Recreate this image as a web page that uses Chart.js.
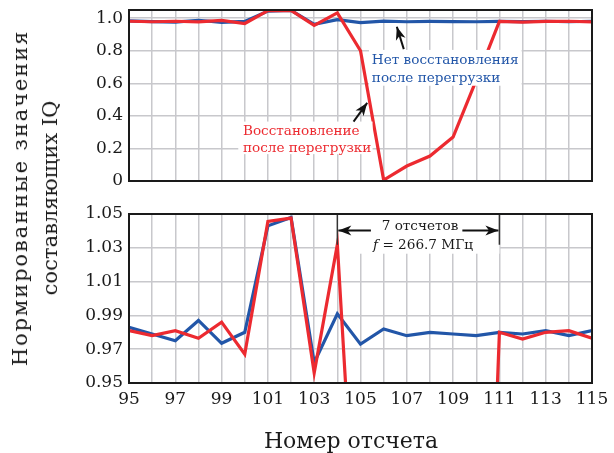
<!DOCTYPE html>
<html><head><meta charset="utf-8">
<script src="https://cdn.jsdelivr.net/npm/chart.js@4/dist/chart.umd.min.js"></script>
<style>
html,body{margin:0;padding:0;background:#fff;}
#wrap{position:relative;width:614px;height:453px;overflow:hidden;background:#fff;}
#c1{position:absolute;left:0;top:0;}
#c2{position:absolute;left:0;top:195px;}
#ytitle{position:absolute;left:35px;top:198px;transform:translate(-50%,-50%) rotate(-90deg);
  font-family:'DejaVu Serif',serif;font-size:21px;line-height:30px;text-align:center;white-space:nowrap;color:#1a1a1a;}
#ytitle .l1{letter-spacing:1.9px;}
#xtitle{position:absolute;left:351px;top:440px;transform:translate(-50%,-50%);
  font-family:'DejaVu Serif',serif;font-size:22px;white-space:nowrap;color:#1a1a1a;}
</style></head>
<body>
<div id="wrap">
<canvas id="c1" width="614" height="195"></canvas>
<canvas id="c2" width="614" height="258"></canvas>
<div id="ytitle"><span class="l1">Нормированные значения</span><br>составляющих IQ</div>
<div id="xtitle">Номер отсчета</div>
</div>
<script>
// ---- data ----
const sampleNumbers = [95,96,97,98,99,100,101,102,103,104,105,106,107,108,109,110,111,112,113,114,115];
const noRecovery   = [0.983,0.979,0.975,0.987,0.9735,0.980,1.043,1.048,0.962,0.991,0.973,0.982,0.978,0.980,0.979,0.978,0.980,0.979,0.981,0.978,0.981];
const withRecovery = [0.981,0.978,0.981,0.9765,0.986,0.967,1.0456,1.0476,0.956,1.032,0.80,0.006,0.092,0.153,0.27,0.62,0.980,0.976,0.980,0.981,0.9765];
const xTickLabels      = ['95','97','99','101','103','105','107','109','111','113','115'];
const topYTickLabels   = ['0','0.2','0.4','0.6','0.8','1.0'];
const bottomYTickLabels= ['0.95','0.97','0.99','1.01','1.03','1.05'];
const noRecoveryLabel = ['Нет восстановления','после перегрузки'];
const recoveryLabel   = ['Восстановление','после перегрузки'];
const periodLabel = ['7 отсчетов','= 266.7 МГц'];

const FONT = "'DejaVu Serif', serif";
const BLUE = '#2256a8', RED = '#ec2a30', GRID = '#c8c8cc', INK = '#1a1a1a';
const NOTE = 13.6;

function pts(arr){ return sampleNumbers.map((x,i)=>({x:x,y:arr[i]})); }
function datasets(){
  return [
    {label:'recovery', data:pts(withRecovery), borderColor:RED, borderWidth:3.2, pointRadius:0, tension:0},
    {label:'norecovery', data:pts(noRecovery), borderColor:BLUE, borderWidth:3.2, pointRadius:0, tension:0}
  ];
}
function range(a,b,step){ const out=[]; const n=Math.round((b-a)/step); for(let i=0;i<=n;i++) out.push(+(a+i*step).toFixed(4)); return out; }

const framePlugin = {
  id:'frame',
  afterDatasetsDraw(chart){
    const {ctx, chartArea:a} = chart;
    ctx.save(); ctx.strokeStyle=INK; ctx.lineWidth=2;
    ctx.strokeRect(a.left, a.top, a.right-a.left, a.bottom-a.top);
    ctx.restore();
  }
};

function arrowHead(ctx, x1,y1,x2,y2, len, wid){
  const ang = Math.atan2(y2-y1, x2-x1);
  const c=Math.cos(ang), s=Math.sin(ang);
  ctx.beginPath();
  ctx.moveTo(x2,y2);
  ctx.lineTo(x2 - len*c + wid*s, y2 - len*s - wid*c);
  ctx.lineTo(x2 - len*c*0.72, y2 - len*s*0.72);
  ctx.lineTo(x2 - len*c - wid*s, y2 - len*s + wid*c);
  ctx.closePath(); ctx.fill();
}
function arrow(ctx, x1,y1,x2,y2){
  ctx.beginPath(); ctx.moveTo(x1,y1); ctx.lineTo(x2,y2); ctx.stroke();
  arrowHead(ctx,x1,y1,x2,y2,13,5);
}

const topNotes = {
  id:'topNotes',
  afterDatasetsDraw(chart){
    const {ctx, scales:{x,y}} = chart;
    ctx.save();
    // blue label box
    let l=x.getPixelForValue(105.37), r=x.getPixelForValue(111.96), t=y.getPixelForValue(0.805), b=y.getPixelForValue(0.585);
    ctx.fillStyle='#fff'; ctx.fillRect(l,t,r-l,b-t);
    ctx.font=NOTE+'px '+FONT; ctx.fillStyle=BLUE; ctx.textBaseline='middle'; ctx.textAlign='left';
    ctx.fillText(noRecoveryLabel[0], x.getPixelForValue(105.49), y.getPixelForValue(0.74));
    ctx.fillText(noRecoveryLabel[1], x.getPixelForValue(105.49), y.getPixelForValue(0.628));
    // red label box
    l=x.getPixelForValue(99.72); r=x.getPixelForValue(105.52); t=y.getPixelForValue(0.365); b=y.getPixelForValue(0.165);
    ctx.fillStyle='#fff'; ctx.fillRect(l,t,r-l,b-t);
    ctx.fillStyle=RED;
    ctx.fillText(recoveryLabel[0], x.getPixelForValue(99.92), y.getPixelForValue(0.303));
    ctx.fillText(recoveryLabel[1], x.getPixelForValue(99.92), y.getPixelForValue(0.2));
    // arrows
    ctx.strokeStyle='#111'; ctx.fillStyle='#111'; ctx.lineWidth=2;
    arrow(ctx, x.getPixelForValue(106.87), y.getPixelForValue(0.81), x.getPixelForValue(106.57), y.getPixelForValue(0.947));
    arrow(ctx, x.getPixelForValue(104.7), y.getPixelForValue(0.365), x.getPixelForValue(105.29), y.getPixelForValue(0.48));
    ctx.restore();
  }
};

const bottomNotes = {
  id:'bottomNotes',
  beforeDatasetsDraw(chart){
    const {ctx, scales:{x,y}} = chart;
    const xl=x.getPixelForValue(104), xr=x.getPixelForValue(111);
    const top=y.getPixelForValue(1.05), bot=y.getPixelForValue(1.0265);
    ctx.save(); ctx.fillStyle='#fff'; ctx.fillRect(xl, top, xr-xl, bot-top); ctx.restore();
  },
  afterDatasetsDraw(chart){
    const {ctx, scales:{x,y}} = chart;
    const xl=x.getPixelForValue(104), xr=x.getPixelForValue(111);
    const top=y.getPixelForValue(1.05);
    ctx.save();
    ctx.strokeStyle='#333'; ctx.lineWidth=1.5;
    const vEnd = y.getPixelForValue(1.0318);
    ctx.beginPath(); ctx.moveTo(xl,top); ctx.lineTo(xl,vEnd); ctx.moveTo(xr,top); ctx.lineTo(xr,vEnd); ctx.stroke();
    const ay = y.getPixelForValue(1.0403);
    ctx.strokeStyle='#111'; ctx.fillStyle='#111'; ctx.lineWidth=2;
    arrow(ctx, x.getPixelForValue(105.45), ay, xl+1, ay);
    arrow(ctx, x.getPixelForValue(109.4), ay, xr-1, ay);
    ctx.font=NOTE+'px '+FONT; ctx.fillStyle=INK; ctx.textBaseline='middle'; ctx.textAlign='center';
    ctx.fillText(periodLabel[0], x.getPixelForValue(107.57), y.getPixelForValue(1.0427));
    // second line: italic f + rest
    const cx = x.getPixelForValue(107.7), cy = y.getPixelForValue(1.0313);
    ctx.font=NOTE+'px '+FONT; const w2 = ctx.measureText(periodLabel[1]).width;
    ctx.font='italic '+NOTE+'px '+FONT; const wf = ctx.measureText('f ').width;
    const start = cx - (w2+wf)/2;
    ctx.textAlign='left';
    ctx.fillText('f ', start, cy);
    ctx.font=NOTE+'px '+FONT; ctx.fillText(periodLabel[1], start+wf, cy);
    ctx.restore();
  }
};

const xGridValues = range(95,115,1);
function xScale(showLabels){
  return {
    type:'linear', min:95, max:115,
    afterBuildTicks: ax => { ax.ticks = xGridValues.map(v=>({value:v})); },
    ticks:{display:showLabels, autoSkip:false, maxRotation:0, minRotation:0, padding:6, color:INK, font:{family:FONT,size:17},
      callback:v=>{ const s=String(Math.round(v)); return xTickLabels.includes(s)?s:''; }},
    grid:{color:GRID, lineWidth:1.5, drawTicks:false},
    border:{color:INK, width:2},
    afterFit: s => { s.height = showLabels ? 70 : 0; s.paddingLeft=0; s.paddingRight=0; }
  };
}
function yScale(min,max,grid,labels,digits){
  return {min:min, max:max,
    afterBuildTicks: ax => { ax.ticks = grid.map(v=>({value:v})); },
    ticks:{padding:6, color:INK, font:{family:FONT,size:17},
      callback:v=>{ const s = Math.abs(v)<1e-9 ? '0' : v.toFixed(digits); return labels.includes(s)?s:''; }},
    grid:{color:GRID, lineWidth:1.5, drawTicks:false},
    border:{color:INK, width:2},
    afterFit: s => { s.width = 129; s.paddingTop=0; s.paddingBottom=0; }
  };
}

new Chart(document.getElementById('c1'), {
  type:'line',
  data:{datasets:datasets()},
  options:{
    responsive:false, animation:false, events:[],
    layout:{padding:{left:0,right:22,top:10,bottom:14}},
    plugins:{legend:{display:false}, tooltip:{enabled:false}},
    scales:{ x: xScale(false), y: yScale(0,1.05,range(0,1.0,0.1),topYTickLabels,1) }
  },
  plugins:[topNotes, framePlugin]
});

new Chart(document.getElementById('c2'), {
  type:'line',
  data:{datasets:datasets()},
  options:{
    responsive:false, animation:false, events:[],
    layout:{padding:{left:0,right:22,top:19,bottom:0}},
    plugins:{legend:{display:false}, tooltip:{enabled:false}},
    scales:{ x: xScale(true), y: yScale(0.95,1.05,range(0.95,1.05,0.01),bottomYTickLabels,2) }
  },
  plugins:[bottomNotes, framePlugin]
});
</script>
</body></html>
